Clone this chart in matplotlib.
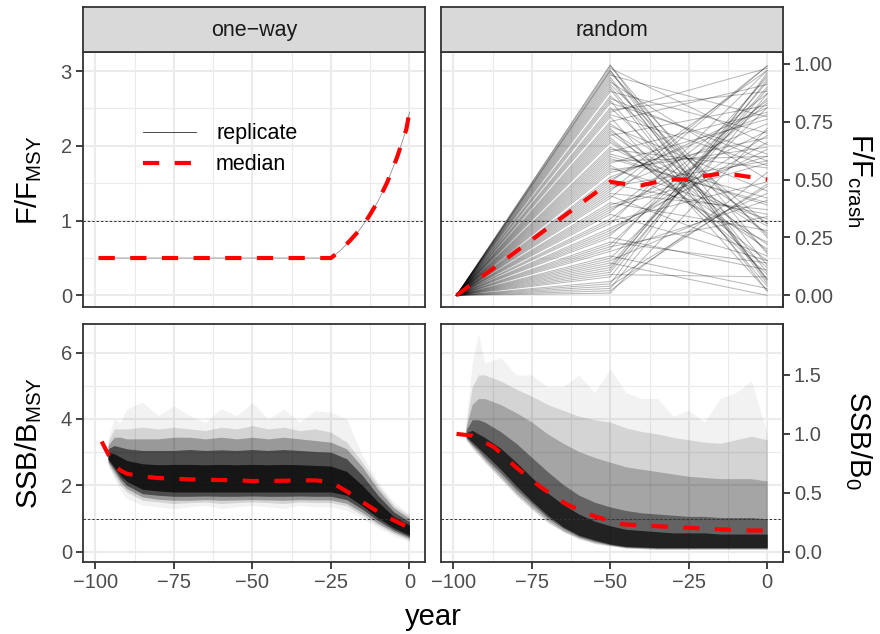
import matplotlib
matplotlib.use("Agg")
import matplotlib.pyplot as plt
import numpy as np

plt.rcParams['font.family'] = ['Liberation Sans', 'DejaVu Sans']

# ratios used by the secondary (right) axes
FCRASH_OVER_FMSY = 3.1
B0_OVER_BMSY = 3.55

# ---- F, one-way scenario (F/Fmsy) ----
f_oneway_years = [-99, -25, -22, -19, -16, -13, -10, -7, -4, -1, 0]
f_oneway = [0.5, 0.5, 0.6, 0.73, 0.87, 1.05, 1.26, 1.52, 1.84, 2.22, 2.45]

# ---- F, random scenario (F/Fcrash) ----
f_random_knots = [-99, -50, 0]
f_random_mid = [0.97, 0.12, 0.55, 0.83, 0.31, 0.04, 0.68, 0.46, 0.91, 0.22,
                0.77, 0.38, 0.60, 0.08, 0.99, 0.27, 0.50, 0.72, 0.15, 0.88,
                0.42, 0.64, 0.02, 0.35, 0.80, 0.19, 0.57, 0.94, 0.29, 0.70,
                0.11, 0.48, 0.85, 0.25, 0.62, 0.06, 0.40, 0.75, 0.17, 0.53,
                0.92, 0.33, 0.66, 0.01, 0.44, 0.79, 0.23, 0.58, 0.96, 0.36,
                0.73, 0.09, 0.51, 0.86, 0.20, 0.63, 0.43, 0.98, 0.14, 0.69,
                0.93, 0.05, 0.47, 0.81, 0.26, 0.59, 0.995, 0.37, 0.13, 0.71,
                0.54, 0.89, 0.03, 0.32, 0.67, 0.95, 0.21, 0.45, 0.78, 0.10,
                0.56, 0.84, 0.28, 0.61, 0.97, 0.16, 0.39, 0.74, 0.49, 0.90]
f_random_end = [0.05, 0.90, 0.33, 0.61, 0.97, 0.48, 0.12, 0.74, 0.26, 0.85,
                0.02, 0.57, 0.39, 0.93, 0.18, 0.66, 0.81, 0.09, 0.44, 0.70,
                0.99, 0.30, 0.53, 0.15, 0.88, 0.41, 0.76, 0.07, 0.63, 0.22,
                0.95, 0.35, 0.58, 0.11, 0.79, 0.47, 0.28, 0.91, 0.03, 0.68,
                0.50, 0.84, 0.20, 0.72, 0.37, 0.98, 0.14, 0.60, 0.25, 0.87,
                0.45, 0.08, 0.78, 0.31, 0.94, 0.55, 0.17, 0.65, 0.00, 0.82,
                0.10, 0.96, 0.58, 0.19, 0.83, 0.40, 0.06, 0.71, 0.92, 0.27,
                0.64, 0.02, 0.87, 0.49, 0.15, 0.77, 0.34, 0.99, 0.56, 0.89,
                0.23, 0.04, 0.69, 0.42, 0.13, 0.81, 0.60, 0.31, 0.97, 0.07]
f_random_median_years = [-99, -90, -80, -70, -60, -50, -45, -40, -35, -30,
                         -25, -20, -15, -10, -5, 0]
f_random_median = [0.0, 0.09, 0.19, 0.29, 0.39, 0.49, 0.48, 0.475, 0.49, 0.5,
                   0.5, 0.515, 0.525, 0.52, 0.51, 0.5]

# ---- SSB envelopes of the replicates (outermost -> densest) ----
ssb_years = [-96, -94, -92, -90, -85, -80, -75, -70, -65, -60, -55, -50,
             -45, -40, -35, -30, -25, -20, -15, -10, -5, 0]

# one-way, SSB/Bmsy
ow_lo_1 = [2.6, 2.2, 1.85, 1.6, 1.4, 1.35, 1.3, 1.35, 1.4, 1.3, 1.35, 1.4,
           1.35, 1.3, 1.4, 1.35, 1.35, 1.25, 1.0, 0.72, 0.48, 0.3]
ow_hi_1 = [3.4, 4.0, 3.9, 4.3, 4.5, 4.1, 4.4, 4.1, 3.9, 4.3, 4.1, 4.5,
           4.0, 4.3, 3.9, 4.25, 4.2, 4.0, 2.9, 2.1, 1.5, 1.15]
ow_lo_2 = [2.65, 2.3, 2.0, 1.8, 1.55, 1.5, 1.45, 1.48, 1.5, 1.45, 1.48, 1.5,
           1.48, 1.45, 1.5, 1.48, 1.48, 1.38, 1.1, 0.8, 0.55, 0.35]
ow_hi_2 = [3.3, 3.7, 3.7, 3.7, 3.75, 3.7, 3.75, 3.7, 3.65, 3.75, 3.7, 3.8,
           3.7, 3.75, 3.65, 3.7, 3.6, 3.3, 2.7, 2.0, 1.4, 1.08]
ow_lo_3 = [2.7, 2.4, 2.1, 1.9, 1.65, 1.58, 1.55, 1.55, 1.57, 1.55, 1.56,
           1.57, 1.56, 1.55, 1.57, 1.56, 1.56, 1.46, 1.18, 0.86, 0.6, 0.4]
ow_hi_3 = [3.2, 3.45, 3.45, 3.4, 3.4, 3.4, 3.45, 3.45, 3.4, 3.45, 3.4, 3.45,
           3.4, 3.45, 3.4, 3.35, 3.3, 3.1, 2.55, 1.88, 1.32, 1.0]
ow_lo_4 = [2.75, 2.48, 2.2, 2.0, 1.75, 1.7, 1.67, 1.67, 1.68, 1.67, 1.67,
           1.68, 1.67, 1.67, 1.68, 1.67, 1.67, 1.57, 1.28, 0.94, 0.66, 0.45]
ow_hi_4 = [3.1, 3.2, 3.15, 3.1, 3.05, 3.05, 3.05, 3.08, 3.05, 3.07, 3.05,
           3.08, 3.05, 3.08, 3.05, 3.02, 3.0, 2.8, 2.3, 1.7, 1.2, 0.9]
ow_lo_5 = [2.8, 2.55, 2.3, 2.12, 1.88, 1.83, 1.8, 1.8, 1.8, 1.8, 1.8, 1.8,
           1.8, 1.8, 1.8, 1.8, 1.8, 1.7, 1.38, 1.02, 0.72, 0.5]
ow_hi_5 = [3.0, 2.95, 2.85, 2.75, 2.65, 2.62, 2.63, 2.63, 2.62, 2.63, 2.62,
           2.63, 2.62, 2.63, 2.62, 2.6, 2.58, 2.42, 2.0, 1.5, 1.06, 0.8]
ssb_oneway_median_years = [-98, -96, -94, -92, -90, -85, -80, -75, -70, -65,
                           -60, -55, -50, -45, -40, -35, -30, -25, -20, -15,
                           -10, -5, 0]
ssb_oneway_median = [3.32, 2.95, 2.6, 2.45, 2.35, 2.27, 2.22, 2.2, 2.18, 2.17,
                     2.16, 2.15, 2.13, 2.13, 2.14, 2.15, 2.15, 2.1, 1.82, 1.5,
                     1.2, 0.95, 0.72]

# random, SSB/B0
rd_lo_1 = [0.95, 0.88, 0.82, 0.76, 0.62, 0.48, 0.36, 0.25, 0.17, 0.11, 0.07,
           0.05, 0.03, 0.025, 0.02, 0.02, 0.02, 0.02, 0.02, 0.02, 0.02, 0.02]
rd_hi_1 = [1.1, 1.6, 1.85, 1.6, 1.65, 1.5, 1.5, 1.4, 1.4, 1.5, 1.35, 1.55,
           1.35, 1.3, 1.3, 1.15, 1.2, 1.1, 1.3, 1.35, 1.45, 1.0]
rd_hi_2 = [1.07, 1.4, 1.5, 1.5, 1.45, 1.38, 1.32, 1.25, 1.2, 1.15, 1.12,
           1.1, 1.05, 1.02, 1.0, 0.97, 0.95, 0.93, 0.92, 0.95, 0.98, 0.95]
rd_lo_3 = [0.96, 0.9, 0.84, 0.78, 0.64, 0.5, 0.38, 0.27, 0.18, 0.12, 0.08,
           0.055, 0.035, 0.03, 0.025, 0.025, 0.025, 0.025, 0.025, 0.025,
           0.025, 0.025]
rd_hi_3 = [1.05, 1.25, 1.3, 1.3, 1.25, 1.18, 1.1, 1.0, 0.92, 0.85, 0.8,
           0.76, 0.72, 0.7, 0.68, 0.66, 0.64, 0.63, 0.62, 0.62, 0.62, 0.6]
rd_lo_4 = [0.97, 0.91, 0.86, 0.8, 0.67, 0.53, 0.41, 0.29, 0.2, 0.13, 0.09,
           0.06, 0.04, 0.035, 0.03, 0.03, 0.03, 0.03, 0.03, 0.03, 0.03, 0.03]
rd_hi_4 = [1.03, 1.12, 1.12, 1.1, 1.02, 0.92, 0.8, 0.68, 0.57, 0.48, 0.42,
           0.38, 0.35, 0.33, 0.32, 0.31, 0.3, 0.3, 0.29, 0.29, 0.29, 0.28]
rd_lo_5 = [0.98, 0.93, 0.88, 0.83, 0.7, 0.56, 0.43, 0.31, 0.21, 0.14, 0.1,
           0.065, 0.045, 0.04, 0.035, 0.035, 0.035, 0.035, 0.035, 0.035,
           0.035, 0.035]
rd_hi_5 = [1.01, 1.03, 1.0, 0.97, 0.88, 0.76, 0.63, 0.5, 0.4, 0.32, 0.26,
           0.22, 0.19, 0.18, 0.17, 0.16, 0.16, 0.16, 0.15, 0.15, 0.15, 0.15]
ssb_random_median_years = [-99, -94, -87, -80, -72, -64, -55, -46, -36, -26,
                           -15, -5, 0]
ssb_random_median = [1.0, 0.985, 0.887, 0.716, 0.545, 0.403, 0.30, 0.233,
                     0.218, 0.204, 0.19, 0.18, 0.18]

ow_alphas = [0.05, 0.12, 0.28, 0.5, 0.7]
rd_alphas = [0.05, 0.12, 0.22, 0.4, 0.65]

facet_labels = ["one\u2212way", "random"]
x_ticks = [-100, -75, -50, -25, 0]

W, H = 880, 634
BORDER = '#333333'
GRID = '#EBEBEB'
TICK_TXT = '#4D4D4D'
MEDIAN_KW = dict(color='red', lw=3.0, dashes=(3.9, 3.7), zorder=6)


def rect(x0, y0, x1, y1):
    # pixel box (top-left origin) -> figure fraction
    return [x0 / W, (H - y1) / H, (x1 - x0) / W, (y1 - y0) / H]


def style_panel(ax, ylim, ymajor, yminor, left, bottom):
    ax.set_xlim(-103.95, 4.95)
    ax.set_ylim(*ylim)
    ax.set_xticks(x_ticks)
    ax.set_xticks([-87.5, -62.5, -37.5, -12.5], minor=True)
    ax.set_yticks(ymajor)
    ax.set_yticks(yminor, minor=True)
    ax.set_axisbelow(True)
    ax.grid(which='major', color=GRID, lw=1.5)
    ax.grid(which='minor', color=GRID, lw=0.8)
    ax.tick_params(which='minor', length=0)
    ax.tick_params(which='major', length=5, width=1.3, color=BORDER,
                   labelsize=14.5, labelcolor=TICK_TXT, pad=3,
                   left=left, labelleft=left, bottom=bottom,
                   labelbottom=bottom)
    for s in ax.spines.values():
        s.set_color(BORDER)
        s.set_linewidth(1.3)


def add_strip(x0, x1, label, fig):
    sa = fig.add_axes(rect(x0, 7, x1, 52))
    sa.set_facecolor('#D9D9D9')
    sa.set_xticks([])
    sa.set_yticks([])
    for s in sa.spines.values():
        s.set_color(BORDER)
        s.set_linewidth(1.3)
    sa.text(0.5, 0.47, label, transform=sa.transAxes, ha='center',
            va='center', fontsize=15.5, color='#1A1A1A')


def add_secondary(ax, ratio, ticks, fmt):
    sec = ax.secondary_yaxis('right', functions=(lambda y: y / ratio,
                                                 lambda y: y * ratio))
    sec.set_yticks(ticks)
    sec.set_yticklabels([fmt % t for t in ticks])
    sec.tick_params(length=5, width=1.3, color=BORDER, labelsize=14.5,
                    labelcolor=TICK_TXT, pad=3)
    sec.spines['right'].set_color(BORDER)
    sec.spines['right'].set_linewidth(1.3)
    return sec


def main():
    fig = plt.figure(figsize=(8.8, 6.34), dpi=100)

    ax_tl = fig.add_axes(rect(83, 52, 425, 307))
    ax_tr = fig.add_axes(rect(441, 52, 782.7, 307))
    ax_bl = fig.add_axes(rect(83, 324, 425, 561.7))
    ax_br = fig.add_axes(rect(441, 324, 782.7, 561.7))

    f_lim = (-0.155, 3.255)
    b_lim = (-0.3, 6.86)
    style_panel(ax_tl, f_lim, [0, 1, 2, 3], [0.5, 1.5, 2.5], True, False)
    style_panel(ax_tr, f_lim, [0, 1, 2, 3], [0.5, 1.5, 2.5], False, False)
    style_panel(ax_bl, b_lim, [0, 2, 4, 6], [1, 3, 5], True, True)
    style_panel(ax_br, b_lim, [0, 2, 4, 6], [1, 3, 5], False, True)

    add_strip(83, 425, facet_labels[0], fig)
    add_strip(441, 782.7, facet_labels[1], fig)

    # ======================
    # F PANELS
    # ======================
    ax_tl.plot(f_oneway_years, f_oneway, color='black', lw=0.5, alpha=0.5,
               label='replicate', zorder=4)
    ax_tl.plot(f_oneway_years, f_oneway, label='median', **MEDIAN_KW)
    leg = ax_tl.legend(frameon=False, loc='upper left',
                       bbox_to_anchor=(0.175, 0.72), fontsize=15.5,
                       handlelength=2.45, handletextpad=0.95,
                       labelspacing=0.45, borderpad=0, borderaxespad=0)
    leg.get_lines()[0].set_alpha(1.0)

    for a, b in zip(f_random_mid, f_random_end):
        vals = np.array([0.0, a, b]) * FCRASH_OVER_FMSY
        ax_tr.plot(f_random_knots, vals, color='black', lw=0.75, alpha=0.27,
                   zorder=3)
    ax_tr.plot(f_random_median_years,
               np.array(f_random_median) * FCRASH_OVER_FMSY, **MEDIAN_KW)

    # ======================
    # SSB PANELS
    # ======================
    ow_bands = [(ow_lo_1, ow_hi_1), (ow_lo_2, ow_hi_2), (ow_lo_3, ow_hi_3),
                (ow_lo_4, ow_hi_4), (ow_lo_5, ow_hi_5)]
    for (lo, hi), al in zip(ow_bands, ow_alphas):
        ax_bl.fill_between(ssb_years, lo, hi, color='black', alpha=al,
                           lw=0, zorder=3)
    ax_bl.plot(ssb_oneway_median_years, ssb_oneway_median, **MEDIAN_KW)

    k = B0_OVER_BMSY
    rd_bands = [(rd_lo_1, rd_hi_1), (rd_lo_1, rd_hi_2), (rd_lo_3, rd_hi_3),
                (rd_lo_4, rd_hi_4), (rd_lo_5, rd_hi_5)]
    for (lo, hi), al in zip(rd_bands, rd_alphas):
        ax_br.fill_between(ssb_years, np.array(lo) * k, np.array(hi) * k,
                           color='black', alpha=al, lw=0, zorder=3)
    ax_br.plot(ssb_random_median_years, np.array(ssb_random_median) * k,
               **MEDIAN_KW)

    # reference lines (F = Fmsy, SSB = Bmsy)
    for ax in (ax_tl, ax_tr, ax_bl, ax_br):
        ax.axhline(1.0, color='#333333', lw=0.7, dashes=(2.5, 2.0), zorder=5)

    add_secondary(ax_tr, FCRASH_OVER_FMSY, [0, 0.25, 0.5, 0.75, 1.0], '%.2f')
    add_secondary(ax_br, B0_OVER_BMSY, [0, 0.5, 1.0, 1.5], '%.1f')

    # ======================
    # AXIS TITLES
    # ======================
    fig.text(29 / W, 1 - 180 / H, r'F/F$_\mathregular{MSY}$', rotation=90,
             ha='center', va='center', fontsize=21)
    fig.text(29 / W, 1 - 443 / H, r'SSB/B$_\mathregular{MSY}$', rotation=90,
             ha='center', va='center', fontsize=21)
    fig.text(860 / W, 1 - 180 / H, r'F/F$_\mathregular{crash}$',
             rotation=270, ha='center', va='center', fontsize=21)
    fig.text(858 / W, 1 - 440 / H, r'SSB/B$_\mathregular{0}$', rotation=270,
             ha='center', va='center', fontsize=21)
    fig.text(433 / W, 1 - 617 / H, 'year', ha='center', va='center',
             fontsize=21)

    fig.savefig('out.png', dpi=100)
    plt.close(fig)


if __name__ == "__main__":
    main()
